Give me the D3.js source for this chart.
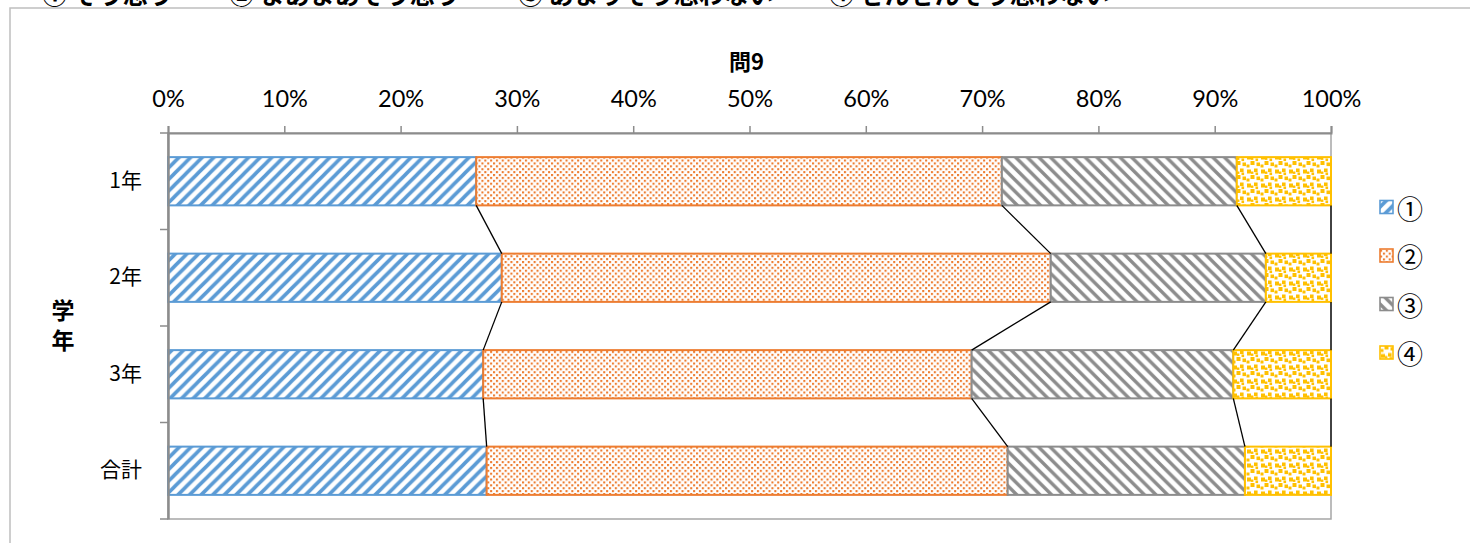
<!DOCTYPE html>
<html lang="ja">
<head>
<meta charset="utf-8">
<script src="https://cdn.jsdelivr.net/npm/d3@7"></script>
<style>
  html, body { margin: 0; padding: 0; background: #fff; }
  svg { display: block; }
</style>
</head>
<body>
<svg id="chart" width="1470" height="543"></svg>
<script>
// 問9 — answers by school year, as shares of 100%
const categories = ["1年", "2年", "3年", "合計"];
const seriesNames = ["①", "②", "③", "④"];
const answer1 = [26.5, 28.7, 27.1, 27.4];   // ① そう思う
const answer2 = [45.2, 47.2, 42.0, 44.8];   // ② まあまあそう思う
const answer3 = [20.2, 18.5, 22.5, 20.4];   // ③ あまりそう思わない
const answer4 = [8.1, 5.6, 8.4, 7.4];       // ④ ぜんぜんそう思わない
const xTickValues = [0, 10, 20, 30, 40, 50, 60, 70, 80, 90, 100];
const headerItems = ["① そう思う", "② まあまあそう思う", "③ あまりそう思わない", "④ ぜんぜんそう思わない"];
const chartTitle = "問9";
const yAxisTitle = "学年";

const seriesValues = [answer1, answer2, answer3, answer4];
const colors = ["#5B9BD5", "#ED7D31", "#8C8C8C", "#FFC000"];
const patternIds = ["pat-up", "pat-dots", "pat-down", "pat-confetti"];

const svg = d3.select("#chart");
const jp = "'Noto Sans CJK JP', 'Noto Sans', sans-serif";
const num = "Lato, 'Liberation Sans', sans-serif";

// ---- fill patterns ----
const defs = svg.append("defs");
const tile = 11.6;

// wide upward diagonal
const up = defs.append("pattern").attr("id", "pat-up").attr("patternUnits", "userSpaceOnUse")
  .attr("width", tile).attr("height", tile);
up.append("rect").attr("width", tile).attr("height", tile).attr("fill", "#fff");
up.append("path")
  .attr("d", `M0,${tile} L${tile},0 M${-tile / 2},${tile / 2} L${tile / 2},${-tile / 2} M${tile / 2},${tile * 1.5} L${tile * 1.5},${tile / 2}`)
  .attr("stroke", colors[0]).attr("stroke-width", 3.6);

// wide downward diagonal
const down = defs.append("pattern").attr("id", "pat-down").attr("patternUnits", "userSpaceOnUse")
  .attr("width", tile).attr("height", tile);
down.append("rect").attr("width", tile).attr("height", tile).attr("fill", "#fff");
down.append("path")
  .attr("d", `M0,0 L${tile},${tile} M${-tile / 2},${tile / 2} L${tile / 2},${tile * 1.5} M${tile / 2},${-tile / 2} L${tile * 1.5},${tile / 2}`)
  .attr("stroke", colors[2]).attr("stroke-width", 3.4);

// fine dotted grid
const dt = 5.8;
const dots = defs.append("pattern").attr("id", "pat-dots").attr("patternUnits", "userSpaceOnUse")
  .attr("width", dt).attr("height", dt);
dots.append("rect").attr("width", dt).attr("height", dt).attr("fill", "#fff");
[[0, 0], [dt / 2, dt / 2]].forEach(([px, py]) => {
  dots.append("rect").attr("x", px).attr("y", py).attr("width", 2.1).attr("height", 2.1).attr("fill", colors[1]);
});

// confetti squares
const ct = 14;
const conf = defs.append("pattern").attr("id", "pat-confetti").attr("patternUnits", "userSpaceOnUse")
  .attr("width", ct).attr("height", ct);
conf.append("rect").attr("width", ct).attr("height", ct).attr("fill", "#fff");
[[1, 1.5, 4], [8, 0.5, 3.6], [4.5, 7, 4], [10.5, 8.5, 3.6], [0.5, 10.5, 3], [9.5, 4.5, 2.6], [5, 3.5, 2.4]].forEach(([px, py, s]) => {
  conf.append("rect").attr("x", px).attr("y", py).attr("width", s).attr("height", s).attr("fill", colors[3]);
});

// ---- outer frame ----
svg.append("path").attr("d", "M10,543 V8 H1470").attr("fill", "none")
  .attr("stroke", "#bfbfbf").attr("stroke-width", 1.5);

// header line of answer choices
const headerX = [42, 229, 518, 829];
svg.append("g").selectAll("text").data(headerItems).join("text")
  .attr("x", (d, i) => headerX[i]).attr("y", 4)
  .attr("font-family", jp).attr("font-weight", "bold").attr("font-size", 25)
  .attr("fill", "#000").text(d => d);

// ---- scales ----
const x = d3.scaleLinear().domain([0, 100]).range([168, 1331]);
const y = d3.scaleBand().domain(categories).range([133, 519]).paddingInner(0.5).paddingOuter(0.25);

// stacked layout
const rows = categories.map((c, i) => {
  const row = { cat: c };
  seriesNames.forEach((s, j) => { row[s] = seriesValues[j][i]; });
  return row;
});
const stacked = d3.stack().keys(seriesNames)(rows);

// plot area border
svg.append("rect").attr("x", x(0)).attr("y", y.range()[0])
  .attr("width", x(100) - x(0)).attr("height", y.range()[1] - y.range()[0])
  .attr("fill", "none").attr("stroke", "#a6a6a6").attr("stroke-width", 1.5);

// ---- bars ----
const barG = svg.append("g");
stacked.forEach((layer, j) => {
  barG.append("g").selectAll("rect").data(layer).join("rect")
    .attr("x", d => x(d[0]))
    .attr("y", d => y(d.data.cat))
    .attr("width", d => x(d[1]) - x(d[0]))
    .attr("height", y.bandwidth())
    .attr("fill", `url(#${patternIds[j]})`)
    .attr("stroke", colors[j]).attr("stroke-width", 2);
});

// ---- series lines between consecutive bars ----
const lineG = svg.append("g");
stacked.forEach(layer => {
  for (let i = 0; i < layer.length - 1; i++) {
    const a = layer[i], b = layer[i + 1];
    lineG.append("line")
      .attr("x1", x(a[1])).attr("y1", y(a.data.cat) + y.bandwidth())
      .attr("x2", x(b[1])).attr("y2", y(b.data.cat))
      .attr("stroke", "#000").attr("stroke-width", 1.3);
  }
});

// ---- top value axis ----
const xAxis = svg.append("g").attr("transform", `translate(0,${y.range()[0]})`)
  .call(d3.axisTop(x).tickValues(xTickValues).tickFormat(d => d + "%").tickSize(7).tickPadding(19));
xAxis.select(".domain").attr("stroke", "#8c8c8c").attr("stroke-width", 2);
xAxis.selectAll(".tick line").attr("stroke", "#8c8c8c").attr("stroke-width", 1.5);
xAxis.selectAll(".tick text").attr("font-family", num).attr("font-size", 23.5).attr("fill", "#000");

// ---- left category axis ----
const yAxis = svg.append("g").attr("transform", `translate(${x(0)},0)`)
  .call(d3.axisLeft(y).tickSize(0).tickPadding(26));
yAxis.select(".domain").attr("stroke", "#8c8c8c").attr("stroke-width", 2.5);
yAxis.selectAll(".tick text").attr("font-family", jp).attr("font-size", 21).attr("fill", "#000");

// tick marks sit on the boundaries between categories
const boundaries = d3.range(categories.length + 1).map(i => y.range()[0] + i * y.step());
svg.append("g").selectAll("line").data(boundaries).join("line")
  .attr("x1", x(0) - 8).attr("x2", x(0)).attr("y1", d => d).attr("y2", d => d)
  .attr("stroke", "#8c8c8c").attr("stroke-width", 1.5);

// ---- titles ----
svg.append("text").attr("x", (x(0) + x(100)) / 2 - 3).attr("y", 60)
  .attr("text-anchor", "middle").attr("dominant-baseline", "central")
  .attr("font-family", jp).attr("font-weight", "bold").attr("font-size", 22)
  .text(chartTitle);

// vertical axis title, set in vertical writing
svg.append("text")
  .attr("x", 63).attr("y", 299)
  .style("writing-mode", "vertical-rl")
  .style("letter-spacing", "7px")
  .attr("font-family", jp).attr("font-weight", "bold").attr("font-size", 23)
  .text(yAxisTitle);

// ---- legend ----
const legend = svg.append("g").selectAll("g").data(seriesNames).join("g")
  .attr("transform", (d, i) => `translate(1380,${207 + i * 48.5})`);
legend.append("rect").attr("x", 0).attr("y", -6.5).attr("width", 13).attr("height", 13)
  .attr("fill", (d, i) => `url(#${patternIds[i]})`)
  .attr("stroke", (d, i) => colors[i]).attr("stroke-width", 1.6);
legend.append("text").attr("x", 17).attr("y", 0).attr("dominant-baseline", "central")
  .attr("font-family", jp).attr("font-size", 26).attr("fill", "#000")
  .text(d => d);
</script>
</body>
</html>
